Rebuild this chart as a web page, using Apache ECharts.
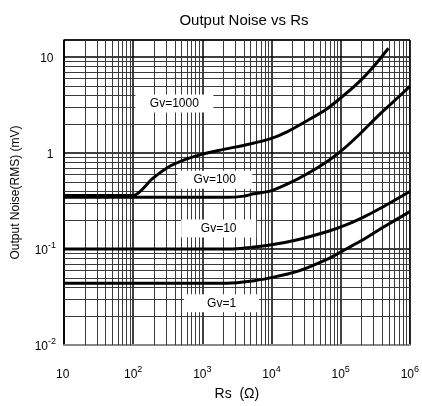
<!DOCTYPE html>
<html><head><meta charset="utf-8">
<script src="https://cdn.jsdelivr.net/npm/echarts@6/dist/echarts.min.js"></script>
<style>html,body{margin:0;padding:0;background:#fff}#c{width:422px;height:406px}</style>
</head><body><div id="c"></div>
<script>
const seriesNames = ['Gv=1000', 'Gv=100', 'Gv=10', 'Gv=1'];

const rsGv1000 = [10, 100, 190, 320, 560, 950, 1700, 4900, 9500, 16500, 32000, 61500, 94000, 180000, 320000, 490000];
const noiseGv1000 = [0.36, 0.36, 0.54, 0.71, 0.85, 0.96, 1.06, 1.24, 1.40, 1.65, 2.15, 2.84, 3.6, 5.4, 8.4, 12.3];

const rsGv100 = [10, 2300, 4000, 5500, 9500, 16500, 32000, 61500, 94000, 180000, 350000, 680000, 1000000];
const noiseGv100 = [0.345, 0.345, 0.355, 0.375, 0.40, 0.47, 0.60, 0.80, 1.0, 1.52, 2.45, 3.8, 4.94];

const rsGv10 = [10, 2500, 9500, 23000, 68000, 120000, 207000, 400000, 1000000];
const noiseGv10 = [0.1, 0.1, 0.11, 0.124, 0.154, 0.178, 0.212, 0.272, 0.397];

const rsGv1 = [10, 2300, 4900, 9500, 23000, 68000, 120000, 207000, 400000, 1000000];
const noiseGv1 = [0.044, 0.044, 0.046, 0.050, 0.058, 0.080, 0.10, 0.124, 0.166, 0.245];

// label anchor points (Rs, noise) for the in-plot curve labels
const labelRs = [394, 1514, 1722, 1900];
const labelNoise = [3.28, 0.527, 0.163, 0.0272];

// log grid minor multipliers and decades
const gridMultipliers = [2, 3, 4, 5, 6, 7, 8, 9];
const xDecades = [10, 100, 1000, 10000, 100000];
const yDecades = [0.01, 0.1, 1];

const xMinor = [];
xDecades.forEach(d => gridMultipliers.forEach(m => xMinor.push(m * d)));
const yMinor = [];
yDecades.forEach(d => gridMultipliers.forEach(m => yMinor.push(+(m * d).toPrecision(3))));

const rsList = [rsGv1000, rsGv100, rsGv10, rsGv1];
const noiseList = [noiseGv1000, noiseGv100, noiseGv10, noiseGv1];

function supLabel(v, isY) {
  const lg = Math.log10(v);
  const e = Math.round(lg);
  if (Math.abs(lg - e) > 0.01) return '';
  if (e === 1) return '{b|10}{sup| }';
  if (e === 0 && isY) return '{b|1}{sup| }';
  return '{b|10}{sup|' + e + '}';
}
const rich = {
  b: { fontSize: 12, color: '#000', verticalAlign: 'bottom', fontFamily: 'Liberation Sans' },
  sup: { fontSize: 9, color: '#000', verticalAlign: 'bottom', padding: [0, 0, 7, 0], fontFamily: 'Liberation Sans' }
};

const gridLineStyle = { type: 'solid', color: '#3a3a3a', width: 1 };

const series = seriesNames.map((name, i) => ({
  name: name,
  type: 'line',
  data: rsList[i].map((r, j) => [r, noiseList[i][j]]),
  showSymbol: false,
  smooth: 0.25,
  lineStyle: { color: '#000', width: 3 },
  z: 3,
  animation: false,
  markPoint: {
    z: 6,
    silent: true,
    animation: false,
    data: [{
      coord: [labelRs[i], labelNoise[i]],
      symbol: 'rect',
      symbolSize: [i === 0 ? 78 : 75, 18],
      itemStyle: { color: '#fff' },
      label: { show: true, position: 'inside', formatter: name, color: '#000', fontSize: 12, fontFamily: 'Liberation Sans' }
    }]
  }
}));

series.push({
  name: 'grid',
  type: 'line',
  data: [],
  z: 1,
  animation: false,
  markLine: {
    z: 1,
    silent: true,
    animation: false,
    symbol: ['none', 'none'],
    label: { show: false },
    lineStyle: gridLineStyle,
    data: xMinor.map(v => ({ xAxis: v })).concat(yMinor.map(v => ({ yAxis: v })))
  }
});

const chart = echarts.init(document.getElementById('c'));
chart.setOption({
  backgroundColor: '#fff',
  animation: false,
  title: {
    text: 'Output Noise vs Rs',
    left: 239, top: 8, textAlign: 'center',
    textStyle: { fontSize: 15, fontWeight: 'normal', color: '#000', fontFamily: 'Liberation Sans' }
  },
  grid: { left: 64, right: 7, top: 40, bottom: 61, show: true, borderColor: '#000', borderWidth: 1, containLabel: false },
  xAxis: {
    type: 'log', logBase: 10, min: 10, max: 1000000,
    name: 'Rs  (\u03A9)', nameLocation: 'middle', nameGap: 42,
    nameTextStyle: { fontSize: 14, color: '#000', fontFamily: 'Liberation Sans' },
    axisLine: { show: true, lineStyle: { color: '#888', width: 2 } },
    axisTick: { show: false },
    axisLabel: { margin: 20, formatter: v => supLabel(v, false), rich: rich },
    splitLine: { show: true, lineStyle: { color: '#000', width: 1.5 } },
    minorTick: { show: false }, minorSplitLine: { show: false }
  },
  yAxis: {
    type: 'log', logBase: 10, min: 0.01, max: 15,
    name: 'Output Noise(RMS) (mV)', nameLocation: 'middle', nameGap: 42, nameRotate: 90,
    nameTextStyle: { fontSize: 12, color: '#000', fontFamily: 'Liberation Sans' },
    axisLine: { show: true, lineStyle: { color: '#000', width: 1.5 } },
    axisTick: { show: false },
    axisLabel: { margin: 8, formatter: v => supLabel(v, true), rich: rich, showMaxLabel: false },
    splitLine: { show: true, lineStyle: { color: '#000', width: 1.5 } },
    minorTick: { show: false }, minorSplitLine: { show: false }
  },
  series: series
});
</script>
</body></html>
